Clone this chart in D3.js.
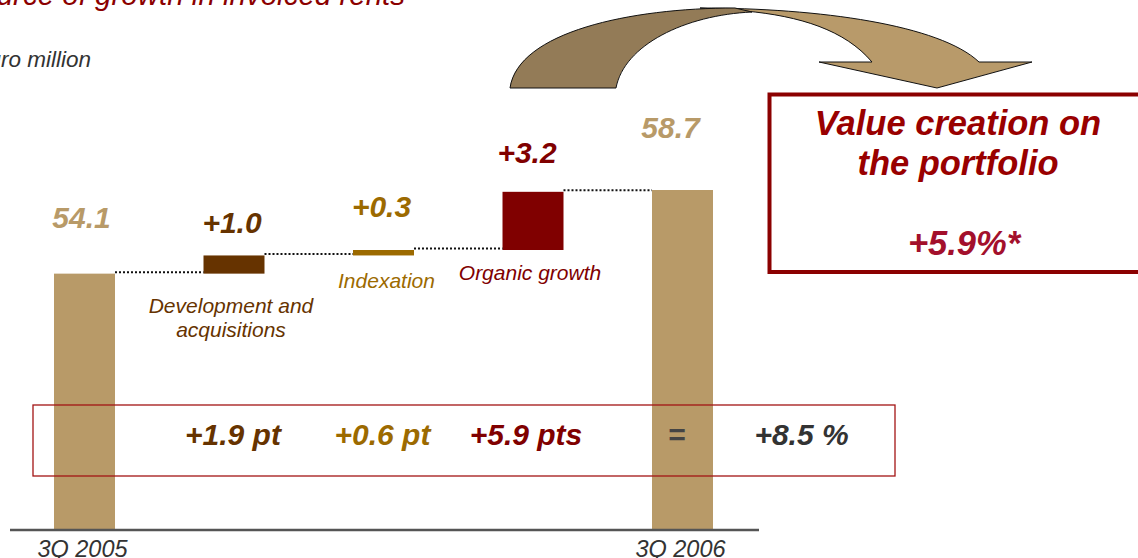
<!DOCTYPE html>
<html>
<head>
<meta charset="utf-8">
<script src="https://cdn.jsdelivr.net/npm/d3@7"></script>
<style>
    body { margin: 0; background: #fff; }
    svg { display: block; font-family: Arial, "Liberation Sans", sans-serif; }
</style>
</head>
<body>
<div id="svg_container"></div>
<script>
// data
var categories = ["3Q 2005", "Development and acquisitions", "Indexation", "Organic growth", "3Q 2006"];
var values = [54.1, 1.0, 0.3, 3.2, 58.7];
var kinds = ["total", "delta", "delta", "delta", "total"];
var valueLabels = ["54.1", "+1.0", "+0.3", "+3.2", "58.7"];
var pointLabels = ["+1.9 pt", "+0.6 pt", "+5.9 pts", "=", "+8.5 %"];
var yMin = 40;

var colors = ["#B89A68", "#663300", "#9C6A00", "#800000", "#B89A68"];
var pointColors = ["#663300", "#9C6A00", "#800000", "#444444", "#333333"];

var width = 1138, height = 558;

var svg = d3.select("#svg_container")
        .append("svg")
        .attr("width", width)
        .attr("height", height);

var x = d3.scaleBand()
        .domain(categories)
        .range([54, 713])
        .paddingInner(0.592)
        .paddingOuter(0);

var y = d3.scaleLinear()
        .domain([yMin, 58.7])
        .range([530, 190]);

// waterfall extents
var run = 0;
var bars = categories.map(function (c, i) {
    var lo, hi;
    if (kinds[i] === "total") {
        lo = yMin;
        hi = values[i];
        run = values[i];
    } else {
        lo = run;
        hi = run + values[i];
        run = hi;
    }
    return {cat: c, lo: lo, hi: hi, i: i};
});

// title (cut by the top edge like the slide)
svg.append("text")
        .attr("x", 405)
        .attr("y", 5)
        .attr("text-anchor", "end")
        .attr("font-size", 29.5)
        .attr("font-style", "italic")
        .attr("fill", "#8B0000")
        .text("Source of growth in invoiced rents");

svg.append("text")
        .attr("x", 91)
        .attr("y", 67)
        .attr("text-anchor", "end")
        .attr("font-size", 22.5)
        .attr("font-style", "italic")
        .attr("fill", "#333")
        .text("Euro million");

// bars
svg.append("g")
        .selectAll("rect")
        .data(bars)
        .join("rect")
        .attr("x", function (d) { return x(d.cat); })
        .attr("y", function (d) { return y(d.hi); })
        .attr("width", x.bandwidth())
        .attr("height", function (d) { return y(d.lo) - y(d.hi); })
        .attr("fill", function (d) { return colors[d.i]; });

// dotted connectors
svg.append("g")
        .selectAll("line")
        .data(bars.slice(0, -1))
        .join("line")
        .attr("x1", function (d) { return x(d.cat) + x.bandwidth(); })
        .attr("x2", function (d) { return x(categories[d.i + 1]); })
        .attr("y1", function (d) { return y(d.hi) - 1.5; })
        .attr("y2", function (d) { return y(d.hi) - 1.5; })
        .attr("stroke", "#111")
        .attr("stroke-width", 2)
        .attr("stroke-dasharray", "2,2");

// value labels above bars
var labelLift = [46, 22, 33, 29, 52];
var labelShift = [-3, -2, -2, -6, -12];
svg.append("g")
        .selectAll("text")
        .data(bars)
        .join("text")
        .attr("x", function (d) { return x(d.cat) + x.bandwidth() / 2 + labelShift[d.i]; })
        .attr("y", function (d) { return y(d.hi) - labelLift[d.i]; })
        .attr("text-anchor", "middle")
        .attr("font-size", 30)
        .attr("font-weight", "bold")
        .attr("font-style", "italic")
        .attr("fill", function (d) { return colors[d.i]; })
        .text(function (d) { return valueLabels[d.i]; });

// category names under the delta bars
var catDrop = {1: 39, 2: 33, 3: 30};
var catShift = {1: -3, 2: 3, 3: -3};
var catLines = {1: ["Development and", "acquisitions"]};
var deltas = bars.filter(function (d) { return kinds[d.i] === "delta"; });
var catText = svg.append("g")
        .selectAll("text")
        .data(deltas)
        .join("text")
        .attr("text-anchor", "middle")
        .attr("font-size", 21)
        .attr("font-style", "italic")
        .attr("fill", function (d) { return colors[d.i]; });
catText.each(function (d) {
    var lines = catLines[d.i] || [d.cat];
    var cx = x(d.cat) + x.bandwidth() / 2 + catShift[d.i];
    d3.select(this).selectAll("tspan")
            .data(lines)
            .join("tspan")
            .attr("x", cx)
            .attr("y", function (l, k) { return y(d.lo) + catDrop[d.i] + k * 24; })
            .text(function (l) { return l; });
});

// axis
var axis = svg.append("g")
        .attr("transform", "translate(0," + y(yMin) + ")")
        .call(d3.axisBottom(x).tickSize(0).tickPadding(0)
                .tickValues(categories.filter(function (c, i) { return kinds[i] === "total"; })));
axis.select(".domain").remove();
axis.append("line")
        .attr("x1", 10)
        .attr("x2", 759)
        .attr("stroke", "#555")
        .attr("stroke-width", 2.5);
axis.selectAll(".tick text")
        .attr("y", 27)
        .attr("dy", 0)
        .attr("dx", -2)
        .attr("font-size", 23.5)
        .attr("font-style", "italic")
        .attr("font-family", "Arial, 'Liberation Sans', sans-serif")
        .attr("fill", "#333");

// points box
svg.append("rect")
        .attr("x", 33)
        .attr("y", 405)
        .attr("width", 862)
        .attr("height", 71)
        .attr("fill", "none")
        .attr("stroke", "#A31515")
        .attr("stroke-width", 1.3);

var pointX = [
    x(categories[1]) + x.bandwidth() / 2 - 1,
    x(categories[2]) + x.bandwidth() / 2 - 1,
    x(categories[3]) + x.bandwidth() / 2 - 7,
    x(categories[4]) + x.bandwidth() / 2 - 6,
    x(categories[4]) + x.bandwidth() / 2 + 119
];
svg.append("g")
        .selectAll("text")
        .data(pointLabels)
        .join("text")
        .attr("x", function (d, i) { return pointX[i]; })
        .attr("y", 445)
        .attr("text-anchor", "middle")
        .attr("font-size", 30)
        .attr("font-weight", "bold")
        .attr("font-style", "italic")
        .attr("fill", function (d, i) { return pointColors[i]; })
        .text(function (d) { return d; });

// curved arrow (twisted ribbon)
svg.append("path")
        .attr("d", "M700,8 C820,8 940,25 979,62 L1032,62 L937,88 L819,62 L872,62 C845,30 800,16 745,11 Z")
        .attr("fill", "#B89A6A")
        .attr("stroke", "#111")
        .attr("stroke-width", 1);
svg.append("path")
        .attr("d", "M510,88 C518,32 630,8 735,8 L752,12 C685,15 624,45 616,88 Z")
        .attr("fill", "#937B57")
        .attr("stroke", "#111")
        .attr("stroke-width", 1);

// value creation box
svg.append("rect")
        .attr("x", 769.5)
        .attr("y", 94.5)
        .attr("width", 420)
        .attr("height", 177.5)
        .attr("fill", "none")
        .attr("stroke", "#8B0000")
        .attr("stroke-width", 4);

var boxLines = [
    {t: "Value creation on", y: 135, c: "#990000", dx: 0},
    {t: "the portfolio", y: 175, c: "#990000", dx: 0},
    {t: "+5.9%*", y: 255, c: "#A3102C", dx: 6}
];
svg.append("g")
        .selectAll("text")
        .data(boxLines)
        .join("text")
        .attr("x", function (d) { return 958 + d.dx; })
        .attr("y", function (d) { return d.y; })
        .attr("text-anchor", "middle")
        .attr("font-size", 34.5)
        .attr("font-weight", "bold")
        .attr("font-style", "italic")
        .attr("fill", function (d) { return d.c; })
        .text(function (d) { return d.t; });
</script>
</body>
</html>
